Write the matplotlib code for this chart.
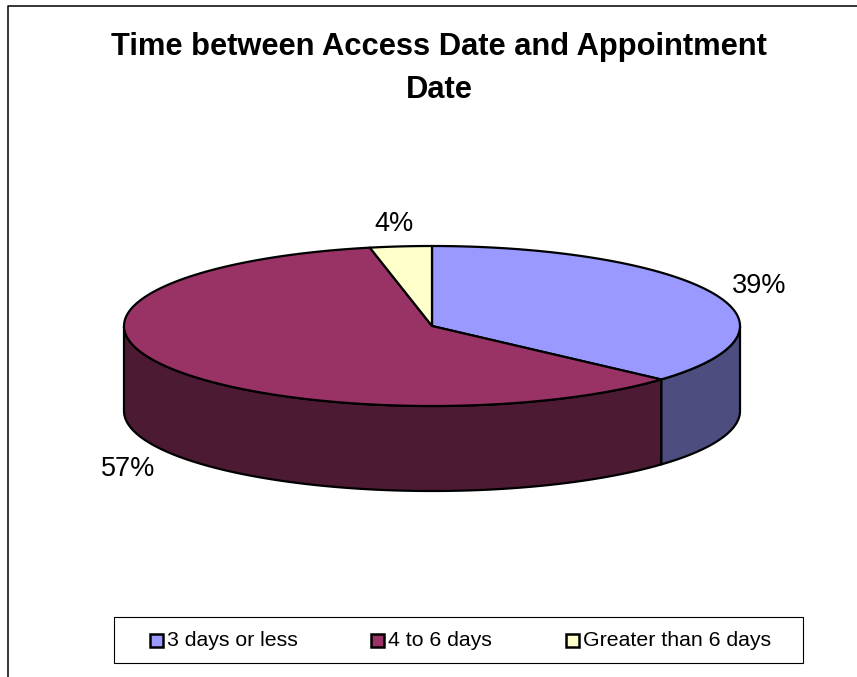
import numpy as np
import matplotlib
matplotlib.use("Agg")
import matplotlib.pyplot as plt
from matplotlib.patches import Rectangle

title = "Time between Access Date and Appointment\nDate"
categories = ["3 days or less", "4 to 6 days", "Greater than 6 days"]
values = [39, 57, 4]
top_colors = ["#9999FF", "#993366", "#FFFFCC"]
side_colors = ["#4D4D80", "#4D1A33", "#808066"]

# pie geometry in pixels
cx, cy = 432, 326
rx, ry = 308, 80
depth = 85
# perspective squeeze of the slice angles, near side looks wider
persp = 0.807

plt.rcParams["font.family"] = "Liberation Sans"

fig = plt.figure(figsize=(8.57, 6.77), dpi=100)
ax = fig.add_axes([0, 0, 1, 1])
ax.set_xlim(0, 857)
ax.set_ylim(677, 0)
ax.axis("off")


def project(deg):
    # angle clockwise from 12 o'clock -> angle on the drawn ellipse
    half = np.radians(np.asarray(deg, dtype=float)) / 2
    return np.degrees(2 * np.arctan2(persp * np.sin(half), np.cos(half)))


def rim(a0, a1):
    t = np.radians(np.linspace(a0, a1, 200))
    return cx + rx * np.sin(t), cy - ry * np.cos(t)


# chart border: only left and top sides show
ax.plot([8.5, 8.5, 857], [677, 5.5, 5.5], color="black", lw=1.1)

angles = np.cumsum([0] + values) * 3.6
angles = np.mod(project(angles), 360)
angles[-1] = 360

# side walls first, only the front half (90 to 270 degrees) shows
for i in range(len(values)):
    a0 = max(angles[i], 90)
    a1 = min(angles[i + 1], 270)
    if a0 >= a1:
        continue
    x, y = rim(a0, a1)
    ax.fill(np.r_[x, x[::-1]], np.r_[y, y[::-1] + depth],
            facecolor=side_colors[i], edgecolor="black", lw=1.6, joinstyle="round")

# top slices
for i in range(len(values)):
    x, y = rim(angles[i], angles[i + 1])
    ax.fill(np.r_[cx, x], np.r_[cy, y],
            facecolor=top_colors[i], edgecolor="black", lw=1.6, joinstyle="round")

# percent labels
ax.text(759, 286, "39%", fontsize=19.5, ha="center", va="center")
ax.text(128, 469, "57%", fontsize=19.5, ha="center", va="center")
ax.text(394, 224, "4%", fontsize=19.5, ha="center", va="center")

ax.text(439, 68.5, title, fontsize=22.2, fontweight="bold", ha="center", va="center",
        linespacing=1.54)

# legend box
ax.add_patch(Rectangle((114, 617), 689, 46, facecolor="white", edgecolor="black", lw=0.8))
legend_x = [150, 371, 566]
for lx, name, col in zip(legend_x, categories, top_colors):
    ax.add_patch(Rectangle((lx, 634), 13, 13, facecolor=col, edgecolor="black", lw=1.8))
    ax.text(lx + 17, 640, name, fontsize=15.3, ha="left", va="center")

fig.savefig("out.png", dpi=100)
